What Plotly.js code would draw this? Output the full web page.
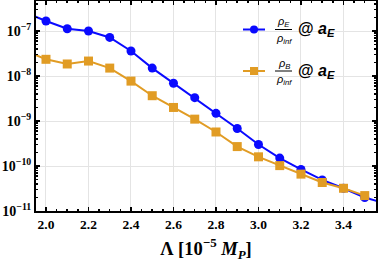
<!DOCTYPE html>
<html>
<head>
<meta charset="utf-8">
<script src="https://cdn.plot.ly/plotly-3.0.1.min.js"></script>
<style>html,body{margin:0;padding:0;background:#fff;}#chart{width:380px;height:262px;}</style>
</head>
<body>
<div id="chart"></div>
<script>
// Lambda [1e-5 M_P]
const lambdaE = [1.9, 2.0, 2.1, 2.2, 2.3, 2.4, 2.5, 2.6, 2.7, 2.8, 2.9, 3.0, 3.1, 3.2, 3.3, 3.4, 3.5, 3.6];
const rhoE = [2.6e-7, 1.67e-7, 1.12e-7, 1.0e-7, 7.2e-8, 3.6e-8, 1.5e-8, 6.9e-9, 3.3e-9, 1.48e-9, 6.8e-10, 3.0e-10, 1.5e-10, 8.4e-11, 4.9e-11, 3.2e-11, 2.0e-11, 1.45e-11];
const lambdaB = [1.9, 2.0, 2.1, 2.2, 2.3, 2.4, 2.5, 2.6, 2.7, 2.8, 2.9, 3.0, 3.1, 3.2, 3.3, 3.4, 3.5];
const rhoB = [3.7e-8, 2.35e-8, 1.85e-8, 2.15e-8, 1.5e-8, 7.7e-9, 3.65e-9, 2.0e-9, 1.1e-9, 5.7e-10, 2.7e-10, 1.6e-10, 1.02e-10, 6.6e-11, 4.3e-11, 3.2e-11, 2.2e-11];

const xTickVals = [2.0, 2.2, 2.4, 2.6, 2.8, 3.0, 3.2, 3.4];
const xTickText = ["2.0", "2.2", "2.4", "2.6", "2.8", "3.0", "3.2", "3.4"];
const yTickVals = [1e-11, 1e-10, 1e-9, 1e-8, 1e-7];
const yTickText = ["10<sup>−11</sup>", "10<sup>−10</sup>", "10<sup>−9</sup>", "10<sup>−8</sup>", "10<sup>−7</sup>"];

const blue = "#0a0aff";
const orange = "#e19c24";

const serif = "Liberation Serif";
const sans = "Liberation Sans";

// plot area in pixels
const L = 36, R = 4, T = 1, B = 51, W = 380, H = 262;
const pw = W - L - R, ph = H - T - B;
const px = v => (v - L) / pw;
const py = v => (H - B - v) / ph;

const traces = [
  {x: lambdaE, y: rhoE, mode: "lines+markers", line: {color: blue, width: 2},
   marker: {symbol: "circle", size: 9, color: blue}, showlegend: false},
  {x: lambdaB, y: rhoB, mode: "lines+markers", line: {color: orange, width: 2},
   marker: {symbol: "square", size: 9, color: orange}, showlegend: false}
];

const shapes = [];
const annotations = [];
function legendItem(yPix, color, symbol, sub) {
  shapes.push({type: "line", xref: "paper", yref: "paper", x0: px(243), x1: px(265), y0: py(yPix), y1: py(yPix),
    line: {color: color, width: 2}});
  shapes.push({type: symbol, xref: "paper", yref: "paper", xsizemode: "pixel", ysizemode: "pixel",
    xanchor: px(254), yanchor: py(yPix), x0: -4, x1: 4, y0: -4, y1: 4,
    line: {width: 0}, fillcolor: color});
  shapes.push({type: "line", xref: "paper", yref: "paper", x0: px(275), x1: px(292), y0: py(yPix), y1: py(yPix),
    line: {color: "#000", width: 1}});
  annotations.push({xref: "paper", yref: "paper", x: px(283.5), y: py(yPix - 7), xanchor: "center", yanchor: "middle",
    text: "<i>ρ<sub>" + sub + "</sub></i>", showarrow: false, font: {family: sans, size: 11, color: "#000"}});
  annotations.push({xref: "paper", yref: "paper", x: px(283.5), y: py(yPix + 9), xanchor: "center", yanchor: "middle",
    text: "<i>ρ<sub>inf</sub></i>", showarrow: false, font: {family: sans, size: 11, color: "#000"}});
  annotations.push({xref: "paper", yref: "paper", x: px(296), y: py(yPix), xanchor: "left", yanchor: "middle",
    text: "<b>@ <i>a<sub>E</sub></i></b>", showarrow: false, font: {family: sans, size: 16, color: "#000"}});
}
legendItem(29.5, blue, "circle", "E");
legendItem(71, orange, "rect", "B");

const layout = {
  width: W, height: H,
  margin: {l: L, r: R, t: T, b: B, pad: 0},
  paper_bgcolor: "#fff", plot_bgcolor: "#fff",
  showlegend: false,
  xaxis: {
    range: [1.953, 3.553], tickmode: "array", tickvals: xTickVals, ticktext: xTickText,
    ticks: "inside", ticklen: 4, tickwidth: 1.5, tickcolor: "#000",
    minor: {dtick: 0.05, tick0: 2.0, ticks: "inside", ticklen: 2, tickwidth: 1.5, tickcolor: "#000", showgrid: false},
    showline: true, linewidth: 2, linecolor: "#000", mirror: "ticks",
    showgrid: true, gridcolor: "#e4e4e4", gridwidth: 1, zeroline: false,
    tickfont: {family: serif, size: 13.5, color: "#000", weight: "bold"},
    title: {text: "<b>Λ [10<sup>−5</sup> <i>M<sub>P</sub></i>]</b>", font: {family: serif, size: 18.5, color: "#000"}, standoff: 11}
  },
  yaxis: {
    type: "log", range: [-11, -6.333], tickmode: "array", tickvals: yTickVals, ticktext: yTickText,
    ticks: "inside", ticklen: 4, tickwidth: 1.5, tickcolor: "#000",
    minor: {dtick: "D1", ticks: "inside", ticklen: 2, tickwidth: 1.5, tickcolor: "#000", showgrid: false},
    showline: true, linewidth: 2, linecolor: "#000", mirror: "ticks",
    showgrid: true, gridcolor: "#e4e4e4", gridwidth: 1, zeroline: false,
    tickfont: {family: serif, size: 14, color: "#000", weight: "bold"}
  },
  shapes: shapes,
  annotations: annotations
};

Plotly.newPlot("chart", traces, layout, {displayModeBar: false, staticPlot: true});
</script>
</body>
</html>
